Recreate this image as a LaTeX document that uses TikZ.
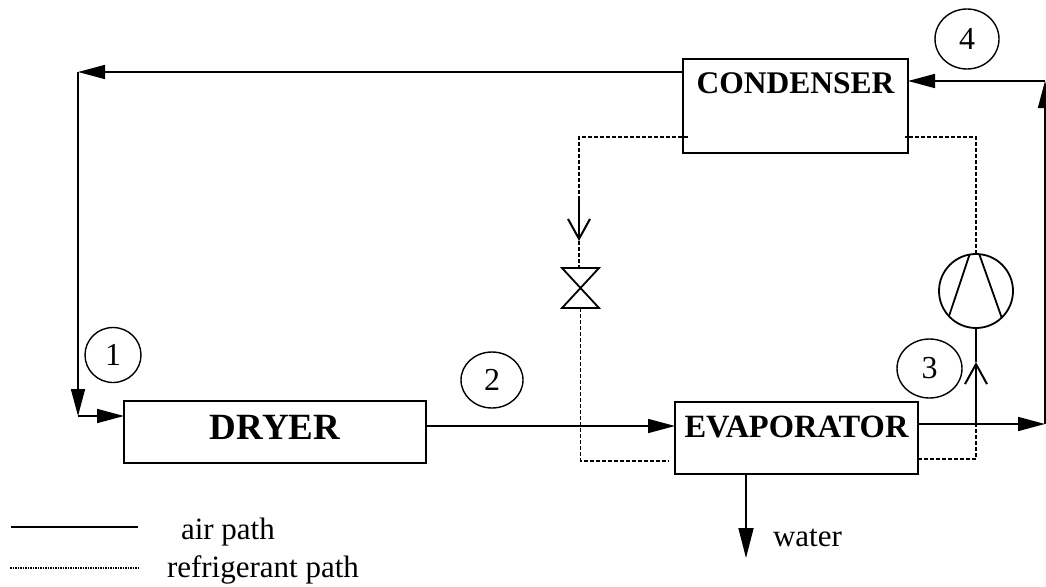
\documentclass[tikz,border=0pt]{standalone}
\usepackage{fontspec}
\setmainfont{Liberation Serif}
\usetikzlibrary{arrows.meta,shapes.geometric}
\tikzset{
  box/.style={draw,line width=1.7pt,inner xsep=0pt,inner ysep=0pt,outer sep=0pt,anchor=north west,align=center,
    font=\fontsize{32.5}{33}\selectfont\bfseries},
  tagmark/.style={draw,ellipse,line width=1.4pt,inner sep=0pt,outer sep=0pt,font=\fontsize{32}{32}\selectfont},
  plain/.style={inner sep=0pt,outer sep=0pt,anchor=base west,font=\fontsize{31}{31}\selectfont},
  airpath/.style={line width=1.7pt},
  airflow/.style={airpath,-{Triangle[length=27pt,width=14pt]}},
  refpath/.style={line width=1.9pt,dash pattern=on 4pt off 2pt},
  refflow/.style={line width=2pt,-{Straight Barb[length=20pt,width=22pt,line width=2pt]}},
  symbol/.style={draw,line width=1.8pt,inner sep=0pt,outer sep=0pt},
}
\begin{document}
\begin{tikzpicture}[x=1pt,y=-1pt]
\useasboundingbox (0,0) rectangle (1046,586);
% equipment
\node[box,minimum width=225pt,text height=34pt,text depth=60pt,font=\fontsize{31.5}{33}\selectfont\bfseries] (cond) at (683,59) {CONDENSER};
\node[box,minimum width=243pt,text height=35pt,text depth=37pt] (evap) at (675,402) {EVAPORATOR};
\node[box,minimum width=302pt,text height=38pt,text depth=24pt,font=\fontsize{37}{37}\selectfont\bfseries] (dryer) at (124,401) {DRYER};
\node[symbol,rectangle,draw=none,minimum width=37pt,minimum height=40pt] (valve) at (580.5,288) {};
\draw[symbol] (valve.north west) -- (valve.north east) -- (valve.south west) -- (valve.south east) -- cycle;
\node[symbol,circle,minimum size=74pt] (comp) at (976,291) {};
\draw[line width=1.8pt] (comp.100) -- (comp.223);
\draw[line width=1.8pt] (comp.85) -- (comp.314);
% state marks
\node[tagmark,minimum width=56pt,minimum height=55pt] (s1) at (113,355) {1};
\node[tagmark,minimum width=62pt,minimum height=56pt] (s2) at (492,380) {2};
\node[tagmark,minimum width=65pt,minimum height=59pt] (s3) at (929.5,368.5) {3};
\node[tagmark,minimum width=64pt,minimum height=60pt] (s4) at (967,39) {4};
% air path corners
\coordinate (tl) at (78,72);
\coordinate (bl) at (78,416);
\coordinate (dm) at (500,426);
\coordinate (br) at (1045,424);
\coordinate (tr) at (1045,81);
\coordinate (wout) at (746,558);
\coordinate (crosstop) at (976,424);
% air path
\draw[airflow] (cond.north west) ++(0,13) -- (tl);
\draw[airflow] (tl) -- (bl);
\draw[airflow] (bl) -- (dryer.north west |- bl);
\draw[airflow] (dryer.east |- dm) -- (evap.west |- dm);
\draw[airflow] (evap.east |- br) -- (br);
\draw[airflow] (br) -- (tr);
\draw[airflow] (tr) -- (cond.east |- tr);
\draw[airflow,-{Triangle[length=30pt,width=15pt]}] (evap.south west -| wout) -- (wout);
% refrigerant path
\coordinate (cl) at (579,137);
\coordinate (cr) at (976,137);
\coordinate (vtip) at (579,241);
\coordinate (vtail) at (579,198);
\coordinate (el) at (580,461);
\coordinate (er) at (976,459);
\coordinate (ctip) at (976,362);
\draw[refpath] ([xshift=5pt]cl -| cond.west) -- (cl) -- (vtail);
\draw[refflow] (vtail) -- (vtip);
\draw[refpath] (vtip) -- (valve.north -| vtip);
\draw[refpath] (valve.south) -- (valve.south |- el) -- ([xshift=-6pt]el -| evap.west);
\draw[refpath] (evap.east |- er) -- (er) -- (crosstop);
\draw[refflow] (crosstop) -- (ctip);
\draw[line width=1.7pt] (ctip) -- (comp.south);
\draw[refpath] (comp.north) -- (cr) -- ([xshift=-3pt]cl -| cond.east);
% labels
\node[plain] (waterlabel) at (773,546) {water};
\coordinate (la) at (11,527);
\coordinate (lb) at (138,527);
\coordinate (lc) at (10,568);
\coordinate (ld) at (138,568);
\draw[line width=1.5pt] (la) -- (lb);
\draw[line width=1.7pt,dash pattern=on 1.5pt off 1pt] (lc) -- (ld);
\node[plain] (airlabel) at (181,539) {air path};
\node[plain] (reflabel) at (167,577) {refrigerant path};
\end{tikzpicture}
\end{document}
